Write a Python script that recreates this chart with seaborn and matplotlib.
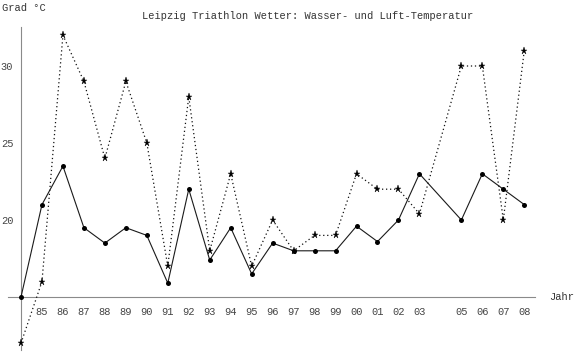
import matplotlib
matplotlib.use("Agg")
import matplotlib.pyplot as plt
import seaborn as sns
import pandas as pd
import numpy as np

years = [1984, 1985, 1986, 1987, 1988, 1989, 1990, 1991, 1992, 1993, 1994, 1995,
         1996, 1997, 1998, 1999, 2000, 2001, 2002, 2003, 2005, 2006, 2007, 2008]
wasser = [15, 21, 23.5, 19.5, 18.5, 19.5, 19, 15.9, 22, 17.4, 19.5, 16.5,
          18.5, 18, 18, 18, 19.6, 18.6, 20, 23, 20, 23, 22, 21]
luft = [12, 16, 32, 29, 24, 29, 25, 17, 28, 18, 23, 17,
        20, 18, 19, 19, 23, 22, 22, 20.4, 30, 30, 20, 31]
tick_years = [1985, 1986, 1987, 1988, 1989, 1990, 1991, 1992, 1993, 1994, 1995, 1996,
              1997, 1998, 1999, 2000, 2001, 2002, 2003, 2005, 2006, 2007, 2008]
tick_labels = ["85", "86", "87", "88", "89", "90", "91", "92", "93", "94", "95", "96",
               "97", "98", "99", "00", "01", "02", "03", "05", "06", "07", "08"]
y_ticks = [20, 25, 30]

sns.set_style("white")
plt.rcParams['font.family'] = ['Liberation Mono', 'DejaVu Sans Mono']

df = pd.DataFrame({"Jahr": years, "Wasser": wasser, "Luft": luft})

fig = plt.figure(figsize=(5.76, 3.56), dpi=100)
ax = fig.add_axes([0, 0, 1, 1])

sns.lineplot(data=df, x="Jahr", y="Luft", ax=ax, color="#111111", linestyle=(0, (1, 2.2)),
             linewidth=0.9, marker="*", markersize=5.2, markeredgewidth=0.3,
             markeredgecolor="black", markerfacecolor="black", zorder=4)
sns.lineplot(data=df, x="Jahr", y="Wasser", ax=ax, color="#1a1a1a", linestyle="-",
             linewidth=0.8, marker="o", markersize=3.6, markeredgewidth=0,
             markeredgecolor="black", markerfacecolor="black", zorder=4)

px = 20.97
ax.set_xlim(1984 - 21 / px, 1984 + 555 / px)
py = 15.4
ax.set_ylim(15 - 59 / py, 15 + 297 / py)

axcol = "#8a8a8a"
for s in ["top", "right"]:
    ax.spines[s].set_visible(False)
ax.spines["left"].set_position(("data", 1984))
ax.spines["bottom"].set_position(("data", 15))
ax.spines["left"].set_bounds(15 - 53 / py, 15 + 270 / py)
ax.spines["bottom"].set_bounds(1984 - 13 / px, 1984 + 514 / px)
for s in ["left", "bottom"]:
    ax.spines[s].set_color(axcol)
    ax.spines[s].set_linewidth(0.8)
    ax.spines[s].set_zorder(1)

ax.set_xticks(tick_years)
ax.set_xticklabels(tick_labels)
ax.set_yticks(y_ticks)
ax.set_yticklabels([str(v) for v in y_ticks])
ax.set_yticks([v for v in range(12, 33) if v not in (15, 20, 25, 30)], minor=True)
ax.tick_params(axis="x", direction="in", length=3, width=0.6, color=axcol,
               labelsize=7.5, labelcolor="#444444", pad=7)
ax.tick_params(axis="y", which="major", direction="inout", length=5, width=0.6, color=axcol,
               labelsize=7.5, labelcolor="#444444", pad=3)
ax.tick_params(axis="y", which="minor", direction="in", length=3, width=0.6, color=axcol)
ax.set_xlabel("")
ax.set_ylabel("")
ax.grid(False)

fig.text(2 / 576, 1 - 8 / 356, "Grad °C", fontsize=7.5, color="#333333", va="center", ha="left")
fig.text(308 / 576, 1 - 16 / 356, "Leipzig Triathlon Wetter: Wasser- und Luft-Temperatur",
         fontsize=7.5, color="#333333", va="center", ha="center")
fig.text(549 / 576, 1 - 297 / 356, "Jahr", fontsize=7.5, color="#333333", va="center", ha="left")

fig.savefig("out.png", dpi=100)
